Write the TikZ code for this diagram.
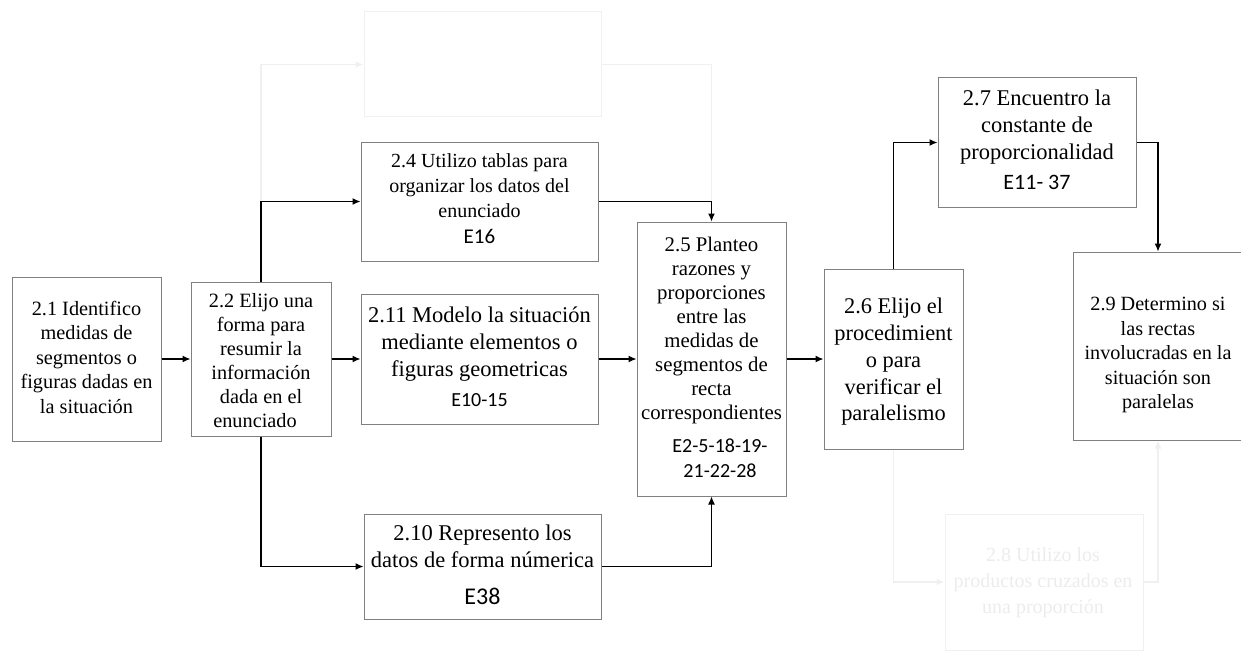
\documentclass[tikz,border=0pt]{standalone}
\usepackage{fontspec}
\setmainfont{Liberation Serif}
\newfontfamily\codefont{Carlito}
\usetikzlibrary{arrows.meta}

\definecolor{boxline}{RGB}{128,128,128}
\definecolor{faint}{RGB}{240,240,240}
\definecolor{fainttext}{RGB}{236,236,236}

\tikzset{
  stepbox/.style={draw=boxline, line width=1pt, rectangle, inner sep=0pt},
  ghostbox/.style={draw=faint, line width=1pt, rectangle, inner sep=0pt},
  txt/.style={align=center, inner sep=0pt},
  arr/.style={draw=black, line width=1.2pt, -{Latex[length=8pt,width=7pt]}},
  ghostarr/.style={draw=faint, line width=1.2pt, -{Latex[length=8pt,width=7pt]}},
  fa/.style={font=\fontsize{20.3}{24.5}\selectfont},
  fb/.style={font=\fontsize{22.5}{27}\selectfont},
}
\newcommand{\code}[2]{{\codefont\fontsize{#1}{#1}\selectfont #2}}

\begin{document}
\begin{tikzpicture}[x=1pt, y=-1pt]
\useasboundingbox (0,0) rectangle (1241,650);

% boxes
\node[ghostbox, minimum width=237, minimum height=105] (bt) at (482.5,64.5) {};
\node[stepbox, minimum width=149, minimum height=164] (b21) at (86.5,359) {};
\node[stepbox, minimum width=140, minimum height=154] (b22) at (261,359) {};
\node[stepbox, minimum width=237, minimum height=119] (b24) at (479.5,201.5) {};
\node[stepbox, minimum width=237, minimum height=130] (b211) at (479.5,359) {};
\node[stepbox, minimum width=237, minimum height=105] (b210) at (482.5,566.5) {};
\node[stepbox, minimum width=149, minimum height=274] (b25) at (711.5,359) {};
\node[stepbox, minimum width=139, minimum height=180] (b26) at (893.5,359) {};
\node[stepbox, minimum width=198, minimum height=129] (b27) at (1037,142.5) {};
\node[stepbox, minimum width=170, minimum height=188] (b29) at (1158,346) {};
\node[ghostbox, minimum width=198, minimum height=136] (b28) at (1044,582) {};

% texts
\node[txt, fa] (t21) at (86.5,357) {2.1 Identifico\\medidas de\\segmentos o\\figuras dadas en\\la situación};
\node[txt, font=\fontsize{20.3}{24}\selectfont] (t22) at (261,361) {2.2 Elijo una\\forma para\\resumir la\\información\\dada en el\\enunciado\hspace*{12pt}};
\node[txt, font=\fontsize{20}{25}\selectfont] (t24) at (479.5,199) {2.4 Utilizo tablas para\\organizar los datos del\\enunciado\\[1pt]\code{21}{E16}};
\node[txt, fb] (t211) at (479.5,357) {2.11 Modelo la situación\\mediante elementos o\\figuras geometricas\\[3pt]\code{20}{E10-15}};
\node[txt, fb] (t210) at (482.5,565) {2.10 Represento los\\datos de forma númerica\\[10pt]\code{24}{E38}};
\node[txt, font=\fontsize{20.8}{24}\selectfont] (t25) at (711.5,357) {2.5 Planteo\\razones y\\proporciones\\entre las\\medidas de\\segmentos de\\recta\\correspondientes\\[9pt]\code{20}{\hspace*{17pt}E2-5-18-19-}\\[1pt]\code{20}{\hspace*{17pt}21-22-28}};
\node[txt, font=\fontsize{22.4}{26.7}\selectfont] (t26) at (893.5,362) {2.6 Elijo el\\procedimient\\o para\\verificar el\\paralelismo};
\node[txt, fb] (t27) at (1037,140) {2.7 Encuentro la\\constante de\\proporcionalidad\\[3pt]\code{22}{E11- 37}};
\node[txt, font=\fontsize{20.2}{24.5}\selectfont] (t29) at (1158,355) {2.9 Determino si\\las rectas\\involucradas en la\\situación son\\paralelas};
\node[txt, font=\fontsize{20}{26}\selectfont, text=fainttext] (t28) at (1043,583) {2.8 Utilizo los\\productos cruzados en\\una proporción};

% faint connectors (drawn first, under the dark ones)
\draw[ghostarr] (b22.north) |- (bt.west);
\draw[faint, line width=1.2pt] (bt.east) -| (b25.north);
\draw[ghostarr] (b26.south) |- (b28.west);
\draw[ghostarr] (b28.east) -| (b29.south);

% connectors
\draw[arr] (b21.east) -- (b22.west);
\draw[arr] (b22.north) |- (b24.west);
\draw[arr] (b22.east) -- (b211.west);
\draw[arr] (b22.south) |- (b210.west);
\draw[arr] (b24.east) -| (b25.north);
\draw[arr] (b211.east) -- (b25.west);
\draw[arr] (b210.east) -| (b25.south);
\draw[arr] (b25.east) -- (b26.west);
\draw[arr] (b26.north) |- (b27.west);
\draw[arr] (b27.east) -| (b29.north);
\end{tikzpicture}
\end{document}
